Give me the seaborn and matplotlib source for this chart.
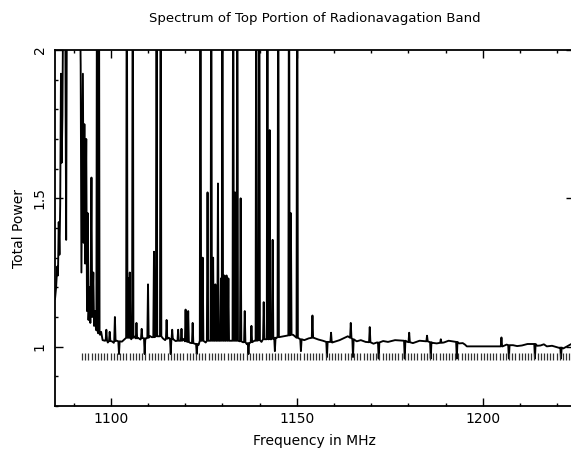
import numpy as np
import pandas as pd
import matplotlib
matplotlib.use("Agg")
import matplotlib.pyplot as plt
from matplotlib.ticker import MultipleLocator
import seaborn as sns

# ---------------- data ----------------
# baseline / envelope knots of the spectrum
base_freq = [1085.0, 1085.3, 1085.6, 1085.8, 1086.0, 1086.2, 1086.4, 1086.6, 1086.8, 1087.0,
             1087.3, 1087.7, 1088.0, 1088.3, 1089.5, 1091.0, 1091.6, 1091.9, 1092.1, 1092.3,
             1092.5, 1092.7, 1092.9, 1093.1, 1093.4, 1093.6, 1093.8, 1094.0, 1094.3, 1094.5,
             1094.8, 1095.0, 1095.3, 1095.5, 1095.8, 1096.0, 1096.5, 1097.1, 1097.4, 1097.8,
             1098.4, 1099.2, 1100.3, 1100.8, 1101.6, 1103.0, 1103.6, 1105.5, 1106.3, 1107.3,
             1108.0, 1109.6, 1110.5, 1111.0, 1114.0, 1114.6, 1115.6, 1116.8, 1117.4, 1118.6,
             1119.5, 1120.4, 1121.3, 1122.5, 1123.6, 1125.5, 1126.3, 1128.5, 1131.3, 1133.7,
             1135.5, 1136.6, 1137.3, 1138.6, 1140.5, 1141.4, 1143.2, 1144.6, 1146.5, 1149.0,
             1150.8, 1152.0, 1153.2, 1154.5, 1155.8, 1157.0, 1159.5, 1161.5, 1163.7, 1166.1,
             1167.2, 1168.5, 1170.6, 1171.5, 1173.2, 1174.5, 1176.4, 1177.7, 1179.6, 1181.2,
             1183.0, 1184.6, 1186.4, 1187.6, 1189.5, 1190.8, 1191.9, 1193.6, 1194.6, 1195.2,
             1195.7, 1205.3, 1206.4, 1208.1, 1209.2, 1210.5, 1212.0, 1213.4, 1214.6, 1215.5,
             1216.4, 1217.2, 1218.6, 1220.5, 1221.6, 1222.5, 1224.5]
base_power = [1.16, 1.20, 1.27, 1.24, 1.42, 1.31, 1.48, 1.92, 1.62, 1.78,
              2.40, 2.30, 1.36, 2.60, 3.00, 2.80, 2.30, 1.95, 1.25, 1.60,
              1.92, 1.35, 1.75, 1.28, 1.70, 1.12, 1.45, 1.09, 1.20, 1.08,
              1.57, 1.10, 1.25, 1.07, 1.12, 1.06, 1.05, 1.04, 1.05, 1.022,
              1.020, 1.014, 1.018, 1.013, 1.020, 1.017, 1.024, 1.025, 1.034, 1.030,
              1.024, 1.028, 1.036, 1.032, 1.028, 1.022, 1.030, 1.025, 1.019, 1.020,
              1.026, 1.018, 1.013, 1.010, 1.006, 1.014, 1.020, 1.020, 1.020, 1.020,
              1.015, 1.008, 1.012, 1.020, 1.016, 1.025, 1.025, 1.030, 1.035, 1.040,
              1.026, 1.022, 1.028, 1.030, 1.024, 1.020, 1.014, 1.022, 1.035, 1.018,
              1.022, 1.016, 1.010, 1.014, 1.019, 1.016, 1.022, 1.021, 1.017, 1.012,
              1.020, 1.018, 1.013, 1.011, 1.014, 1.020, 1.018, 1.011, 1.012, 1.007,
              1.001, 1.001, 1.007, 1.005, 1.002, 1.004, 1.009, 1.009, 1.003, 1.004,
              1.008, 1.001, 1.003, 0.996, 0.994, 1.000, 1.014]

# narrow interference lines: centre, peak (or dip) value, foot value
spike_freq = [1096.3, 1096.8, 1098.8, 1099.7, 1101.1, 1102.2, 1104.3, 1104.7, 1105.1, 1105.9,
              1106.9, 1108.3, 1109.1, 1110.0, 1111.6, 1112.3, 1113.4, 1115.0, 1116.1, 1116.5,
              1118.1, 1119.0, 1120.1, 1120.8, 1122.0, 1123.1, 1124.1, 1124.7, 1126.0, 1127.0,
              1127.5, 1128.1, 1128.8, 1129.6, 1130.0, 1130.5, 1131.1, 1131.6, 1132.9, 1133.4,
              1134.0, 1134.9, 1136.0, 1137.0, 1137.8, 1139.1, 1139.9, 1141.1, 1142.1, 1142.7,
              1143.5, 1144.1, 1145.0, 1147.9, 1148.4, 1150.1, 1151.1, 1154.2, 1158.1, 1159.2,
              1164.5, 1165.1, 1169.6, 1172.0, 1179.0, 1180.2, 1185.0, 1186.0, 1188.7, 1193.0,
              1205.0, 1207.0, 1214.0, 1221.0]
spike_peak = [2.60, 2.60, 1.057, 1.05, 1.10, 0.975, 2.60, 1.23, 1.25, 2.60,
              1.08, 1.06, 0.975, 1.21, 1.32, 2.60, 2.60, 1.09, 0.975, 1.057,
              1.057, 1.06, 1.125, 1.12, 1.08, 0.975, 2.60, 1.30, 1.52, 2.60,
              1.30, 1.21, 1.55, 1.23, 2.60, 1.24, 1.24, 1.23, 2.60, 1.52,
              2.60, 1.50, 1.12, 0.975, 1.07, 2.60, 2.60, 1.15, 2.60, 1.73,
              1.36, 0.985, 2.60, 2.60, 1.45, 2.60, 0.985, 1.105, 0.965, 1.047,
              1.08, 0.965, 1.066, 0.96, 0.96, 1.047, 1.037, 0.96, 1.025, 0.96,
              1.031, 0.96, 0.96, 0.96]
spike_foot = [1.055, 1.045, 1.021, 1.019, 1.019, 1.018, 1.03, 1.03, 1.03, 1.03,
              1.028, 1.029, 1.028, 1.03, 1.032, 1.035, 1.035, 1.027, 1.025, 1.025,
              1.02, 1.02, 1.018, 1.016, 1.012, 1.009, 1.02, 1.02, 1.02, 1.02,
              1.02, 1.02, 1.02, 1.02, 1.02, 1.02, 1.02, 1.02, 1.02, 1.02,
              1.02, 1.018, 1.015, 1.012, 1.015, 1.02, 1.022, 1.025, 1.025, 1.025,
              1.027, 1.03, 1.032, 1.038, 1.04, 1.03, 1.025, 1.03, 1.016, 1.016,
              1.03, 1.025, 1.015, 1.014, 1.02, 1.015, 1.018, 1.015, 1.013, 1.016,
              1.001, 1.005, 1.009, 0.997]

# channel comb drawn under the spectrum
comb_start, comb_stop, comb_step = 1092.3, 1224.0, 0.85
comb_low, comb_high = 0.955, 0.979

title = "Spectrum of Top Portion of Radionavagation Band"
xlabel = "Frequency in MHz"
ylabel = "Total Power"
x_ticks = [1100, 1150, 1200]
y_ticks = [1, 1.5, 2]
y_ticklabels = ["1", "1.5", "2"]

# ---------------- build table ----------------
half = 0.18
f_pts = list(base_freq)
p_pts = list(base_power)
for f, pk, ft in zip(spike_freq, spike_peak, spike_foot):
    f_pts += [f - half, f, f + half]
    p_pts += [ft, pk, ft]
df = pd.DataFrame({"freq": f_pts, "power": p_pts}).sort_values("freq").reset_index(drop=True)

comb_x = np.arange(comb_start, comb_stop, comb_step)

# ---------------- plot ----------------
sns.set_style("ticks")
plt.rcParams["font.family"] = ["DejaVu Sans"]
plt.rcParams["text.color"] = "black"
plt.rcParams["axes.labelcolor"] = "black"
plt.rcParams["xtick.color"] = "black"
plt.rcParams["ytick.color"] = "black"

W, H = 571, 459
left_px, right_px, top_px, bottom_px = 55, 574, 50, 406
fig = plt.figure(figsize=(W / 100, H / 100), dpi=100)
ax = fig.add_axes([left_px / W, 1 - bottom_px / H, (right_px - left_px) / W, (bottom_px - top_px) / H])

sns.lineplot(data=df, x="freq", y="power", ax=ax, color="black", lw=1.35,
             estimator=None, sort=True)
ax.vlines(comb_x, comb_low, comb_high, color="#333333", lw=0.9)

ax.set_xlim(1085, 1224.5)
ax.set_ylim(0.8, 2.0)
ax.set_xticks(x_ticks)
ax.set_xticklabels([str(t) for t in x_ticks])
ax.set_yticks(y_ticks)
ax.set_yticklabels(y_ticklabels, rotation=90, va="center")
ax.xaxis.set_minor_locator(MultipleLocator(10))
ax.yaxis.set_minor_locator(MultipleLocator(0.1))
ax.tick_params(which="both", direction="in", top=True, right=True, width=1.0,
               colors="black", labelcolor="black", labelsize=10)
ax.tick_params(which="major", length=6)
ax.tick_params(which="minor", length=2.5)
ax.tick_params(axis="x", pad=4)
ax.tick_params(axis="y", pad=6)
for s in ax.spines.values():
    s.set_linewidth(1.3)
    s.set_color("black")

ax.set_xlabel(xlabel, fontsize=10, labelpad=6, color="black")
ax.set_ylabel(ylabel, fontsize=10, labelpad=5, color="black")
ax.set_title(title, fontsize=9.5, pad=20, color="black")

fig.savefig("out.png", dpi=100)
